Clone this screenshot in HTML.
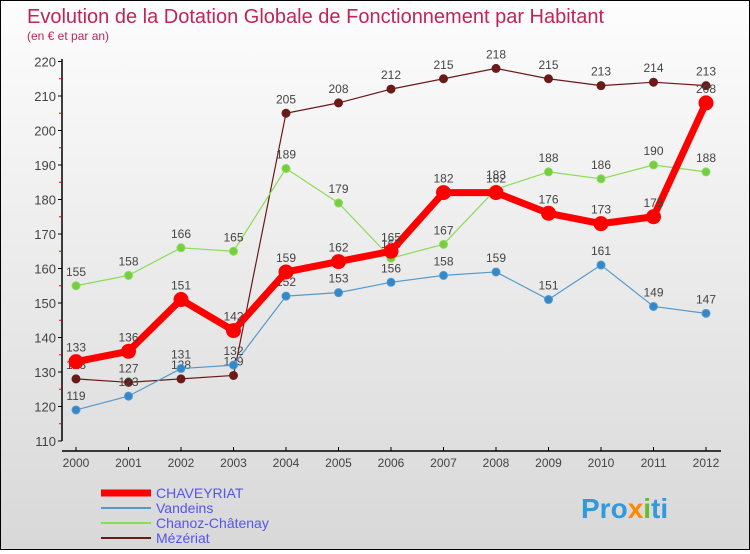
<!DOCTYPE html>
<html><head><meta charset="utf-8">
<style>
body{margin:0;width:750px;height:550px;overflow:hidden;font-family:"Liberation Sans","DejaVu Sans",sans-serif}
#wrap{position:relative;width:748px;height:548px;border:1px solid #000;background:linear-gradient(#fdfdfd,#d8d8d8)}
</style></head><body>
<div id="wrap">
<svg id="c" width="748" height="548" xmlns="http://www.w3.org/2000/svg">
<text x="26" y="22" font-size="20" fill="#c0245a">Evolution de la Dotation Globale de Fonctionnement par Habitant</text>
<text x="26" y="39" font-size="12" fill="#c0245a">(en € et par an)</text>
<g id="g"></g>
<text x="580" y="517" font-size="28" font-weight="bold" fill="#3399dd">Pro<tspan fill="#ff8800">x</tspan><tspan fill="#66bb33">i</tspan>ti</text>
</svg>
</div>
<script>
const years=[2000,2001,2002,2003,2004,2005,2006,2007,2008,2009,2010,2011,2012];
const yTicks=[110,120,130,140,150,160,170,180,190,200,210,220];
const chaveyriat=[133,136,151,142,159,162,165,182,182,176,173,175,208];
const vandeins=[119,123,131,132,152,153,156,158,159,151,161,149,147];
const chanoz=[155,158,166,165,189,179,163,167,183,188,186,190,188];
const mezeriat=[128,127,128,129,205,208,212,215,218,215,213,214,213];
const NS="http://www.w3.org/2000/svg";
const g=document.getElementById('g');
const X=i=>75+i*52.5;
const Y=v=>440-(v-110)*3.45;
function mk(t,a,p){const e=document.createElementNS(NS,t);for(const k in a)e.setAttribute(k,a[k]);(p||g).appendChild(e);return e;}
let ax=mk('line',{x1:61,y1:58,x2:61,y2:440,stroke:'#000','stroke-width':1.5});


let bx=mk('line',{x1:61,y1:450,x2:720,y2:450,stroke:'#000','stroke-width':1.5});


yTicks.forEach((v,i)=>{
 mk('line',{x1:57,y1:Y(v),x2:61,y2:Y(v),stroke:'#000'});
 if(i<yTicks.length-1)mk('line',{x1:58,y1:Y(v+5),x2:61,y2:Y(v+5),stroke:'#e00'});
 let t=mk('text',{x:55,y:Y(v)+5,'font-size':13,'text-anchor':'end',fill:'#444'});
 t.textContent=v;
 
 
});
years.forEach((y,i)=>{
 mk('line',{x1:X(i),y1:446,x2:X(i),y2:450,stroke:'#000'});
 let t=mk('text',{x:X(i),y:466,'font-size':12,'text-anchor':'middle',fill:'#444'});
 t.textContent=y;
 
 
});
function series(d,col,w,r,name,dot){
 let l=mk('polyline',{points:d.map((v,i)=>X(i)+','+Y(v)).join(' '),fill:'none',stroke:col,'stroke-width':w,'stroke-linejoin':'round'});
 
 
 d.forEach((v,i)=>{
  let c=mk('circle',{cx:X(i),cy:Y(v),r:r,fill:dot,stroke:col,'stroke-width':1});
  
  
  let t=mk('text',{x:X(i),y:Y(v)-10,'font-size':12,'text-anchor':'middle',fill:'#444'});
  t.textContent=v;
  
  
 });
}
series(mezeriat,'#6b1a1a',1.2,4,'mezeriat','#6b1a1a');
series(chanoz,'#88dd55',1.2,4,'chanoz-chatenay','#77cc44');
series(vandeins,'#5599cc',1.2,4,'vandeins','#3388cc');
series(chaveyriat,'#ff0000',7,7,'chaveyriat','#ff0000');
const leg=[['CHAVEYRIAT','#ff0000',7],['Vandeins','#5599cc',2],['Chanoz-Châtenay','#88dd55',2],['Mézériat','#6b1a1a',2]];
leg.forEach((e,i)=>{
 let y=492+i*15;
 let l=mk('line',{x1:100,y1:y,x2:150,y2:y,stroke:e[1],'stroke-width':e[2]});
 
 
 let t=mk('text',{x:155,y:y+5,'font-size':14,fill:'#5555ee'});
 t.textContent=e[0];
 
 
});
</script>
</body></html>
